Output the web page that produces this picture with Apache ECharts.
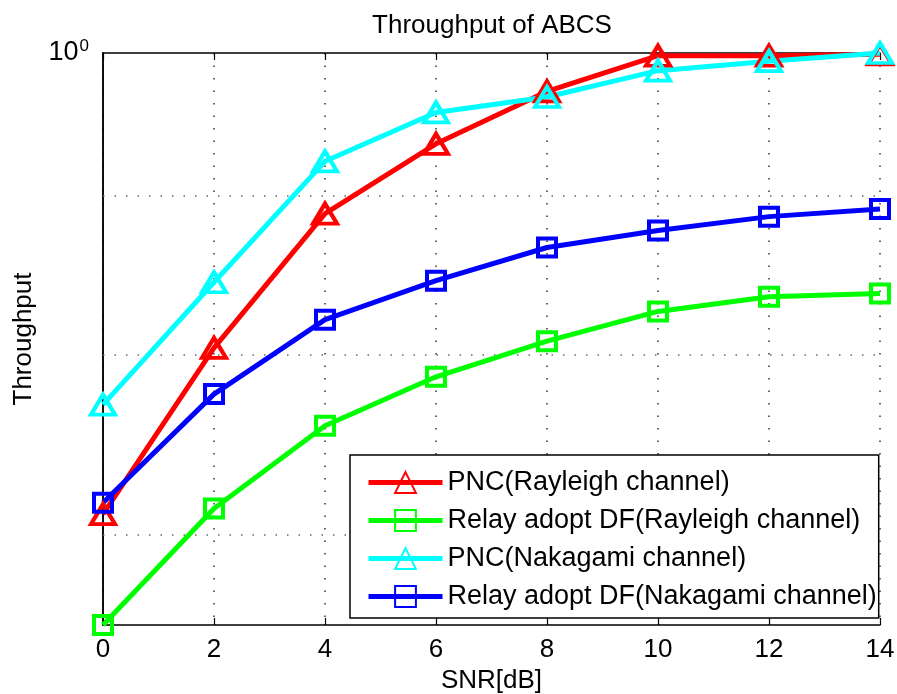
<!DOCTYPE html>
<html><head><meta charset="utf-8">
<script src="https://cdn.jsdelivr.net/npm/echarts@6/dist/echarts.min.js"></script>
<style>html,body{margin:0;padding:0;background:#fff}#c{width:897px;height:694px}</style>
</head><body><div id="c"></div>
<script>
const snr = [0, 2, 4, 6, 8, 10, 12, 14];
const pncRayleigh = [0.711, 0.804, 0.888, 0.935, 0.972, 0.998, 0.998, 0.999];
const dfRayleigh = [0.655, 0.714, 0.759, 0.787, 0.808, 0.826, 0.835, 0.837];
const pncNakagami = [0.771, 0.844, 0.923, 0.957, 0.968, 0.987, 0.994, 1.0];
const dfNakagami = [0.717, 0.777, 0.821, 0.845, 0.866, 0.877, 0.886, 0.891];
const minorGrid = [0.7, 0.8, 0.9];
const names = ['PNC(Rayleigh channel)', 'Relay adopt DF(Rayleigh channel)', 'PNC(Nakagami channel)', 'Relay adopt DF(Nakagami channel)'];

const FONT = 'Arial, "Liberation Sans", sans-serif';
const chart = echarts.init(document.getElementById('c'));

function pairs(vals) { return snr.map((x, i) => [x, vals[i]]); }
function mk(name, vals, color, symbol, size) {
  return {
    name: name, type: 'line', data: pairs(vals),
    symbol: symbol, symbolSize: size,
    lineStyle: { color: color, width: 5 },
    itemStyle: { color: 'rgba(255,255,255,0)', borderColor: color, borderWidth: 4 },
    emphasis: { disabled: true },
    animation: false, z: 3
  };
}
const series = [
  mk(names[0], pncRayleigh, '#ff0000', 'triangle', [24, 20]),
  mk(names[1], dfRayleigh, '#00ff00', 'rect', 18),
  mk(names[2], pncNakagami, '#00ffff', 'triangle', [24, 20]),
  mk(names[3], dfNakagami, '#0000ff', 'rect', 18)
];
series[0].markLine = {
  silent: true, symbol: 'none', animation: false,
  label: { show: false },
  lineStyle: { color: '#666', width: 1.5, type: [1.5, 10] },
  data: minorGrid.map(v => ({ yAxis: v }))
};
series[0].markLine.z = 1;

chart.setOption({
  backgroundColor: '#fff',
  animation: false,
  title: {
    text: 'Throughput of ABCS', left: 487, top: 8, textAlign: 'center',
    textStyle: { fontFamily: FONT, fontSize: 26, fontWeight: 'normal', color: '#000' }
  },
  grid: { left: 103, right: 17, top: 53, bottom: 69, outerBoundsMode: 'none', containLabel: false },
  legend: {
    orient: 'vertical', left: 350, top: 455,
    padding: [14, 2, 8, 16],
    itemWidth: 74, itemHeight: 26, itemGap: 11,
    backgroundColor: '#fff', borderColor: '#000', borderWidth: 1.5, borderRadius: 0,
    lineStyle: { width: 5 },
    textStyle: { fontFamily: FONT, fontSize: 27, color: '#000' },
    data: names
  },
  xAxis: [{
    type: 'value', min: 0, max: 14, interval: 2,
    name: 'SNR[dB]', nameLocation: 'middle', nameGap: 43,
    nameTextStyle: { fontFamily: FONT, fontSize: 26, color: '#000' },
    axisLine: { lineStyle: { color: '#000', width: 1.5 } },
    axisTick: { inside: true, length: 7, lineStyle: { color: '#000', width: 1.2 } },
    axisLabel: { fontFamily: FONT, fontSize: 26, color: '#000', margin: 12 },
    splitLine: { show: true, lineStyle: { color: '#333', width: 1.5, type: [1.5, 11] } }
  }, {
    type: 'value', min: 0, max: 14, interval: 2, position: 'top',
    axisLine: { show: true, onZero: false, lineStyle: { color: '#000', width: 1.5 } },
    axisTick: { inside: true, length: 7, lineStyle: { color: '#000', width: 1.2 } },
    axisLabel: { show: false }, splitLine: { show: false }
  }],
  yAxis: [{
    type: 'log', logBase: 10, min: 0.655, max: 1,
    name: 'Throughput', nameLocation: 'middle', nameGap: 66, nameRotate: 90,
    nameTextStyle: { fontFamily: FONT, fontSize: 26, color: '#000' },
    axisLine: { show: true, lineStyle: { color: '#000', width: 1.5 } },
    axisTick: { show: false },
    splitLine: { show: false },
    axisLabel: {
      margin: 14,
      formatter: function (v) { return Math.abs(v - 1) < 1e-6 ? '{a|10}{b|0}' : ''; },
      rich: {
        a: { fontFamily: FONT, fontSize: 27, color: '#000', lineHeight: 30 },
        b: { fontFamily: FONT, fontSize: 17, color: '#000', verticalAlign: 'top', lineHeight: 17, padding: [0, 0, 16, 1] }
      }
    }
  }, {
    type: 'log', logBase: 10, min: 0.655, max: 1, position: 'right',
    axisLine: { show: true, lineStyle: { color: '#000', width: 1.5 } },
    axisTick: { show: false }, axisLabel: { show: false }, splitLine: { show: false }
  }],
  series: series
});
</script></body></html>
